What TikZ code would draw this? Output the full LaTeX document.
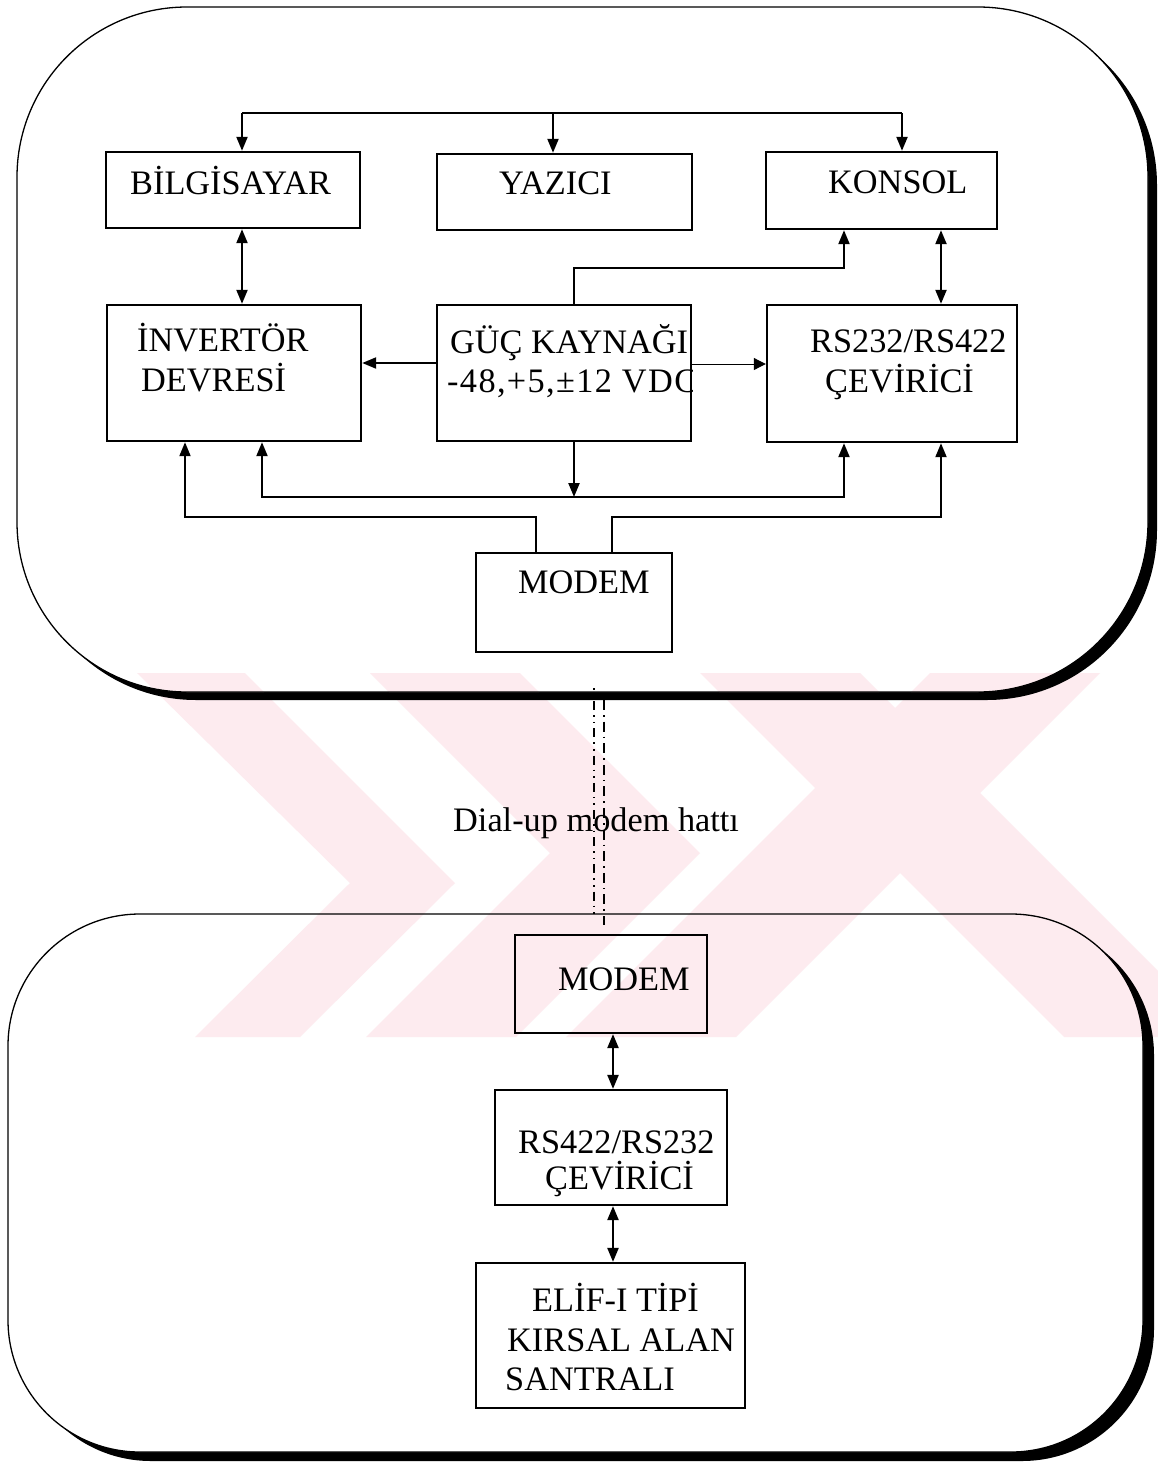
\documentclass[tikz,border=0pt]{standalone}
\usepackage{fontspec}
\setmainfont{Liberation Serif}
\usetikzlibrary{arrows.meta}
\definecolor{wm}{RGB}{253,235,239}
\newcommand\wmarkshapes{%
  \begin{scope}
    \clip (0,673) rectangle (1158,1037);
    \fill[wm] (137,673) -- (245,673) -- (455,883) -- (300,1037) -- (195,1037) -- (350,883) -- cycle;
    \fill[wm] (370,673) -- (520,673) -- (700,853) -- (516,1037) -- (366,1037) -- (550,853) -- cycle;
    \fill[wm] (930,673) -- (1100,673) -- (736,1037) -- (566,1037) -- cycle;
    \fill[wm] (700,673) -- (860,673) -- (1224,1037) -- (1064,1037) -- cycle;
  \end{scope}}
\tikzset{
  boxst/.style={draw, line width=2.4pt, inner sep=0pt},
  txt/.style={anchor=base west, inner sep=0pt, font=\fontsize{34.3}{40}\selectfont},
  conn/.style={line width=2.2pt},
  mline/.style={line width=2pt},
  arr/.style={-{Triangle[length=14pt,width=11pt]}},
  darr/.style={{Triangle[length=14pt,width=11pt]}-{Triangle[length=14pt,width=11pt]}},
  thinarr/.style={line width=1pt,-{Triangle[length=12pt,width=12pt]}},
  dashA/.style={line width=1.6pt, dash pattern=on 1.6pt off 5pt on 1.6pt off 5pt on 9pt off 5pt},
  dashB/.style={line width=1.6pt, dash pattern=on 10pt off 5pt on 1.6pt off 5pt}
}
\begin{document}
\begin{tikzpicture}[x=1pt,y=-1pt]
\useasboundingbox (0,0) rectangle (1158,1464);
\fill[white] (0,0) rectangle (1158,1464);
% watermark outside boxes
\wmarkshapes
% top outer box with shadow
\fill[black, rounded corners=170] (26,15) rectangle (1157,700);
\fill[white, rounded corners=170] (17,7) rectangle (1148,692);
\begin{scope}
  \clip[rounded corners=170] (17,7) rectangle (1148,692);
  \wmarkshapes
\end{scope}
\draw[line width=1.3pt, rounded corners=170] (17,7) rectangle (1148,692);
% lower outer box with shadow
\fill[black, rounded corners=132] (19,923) rectangle (1154,1461);
\fill[white, rounded corners=132] (8,914) rectangle (1143,1452);
\begin{scope}
  \clip[rounded corners=132] (8,914) rectangle (1143,1452);
  \wmarkshapes
\end{scope}
\draw[line width=1.3pt, rounded corners=132] (8,914) rectangle (1143,1452);

% boxes
\node[boxst, minimum width=254, minimum height=76] (bil) at (233,190) {};
\node[boxst, minimum width=255, minimum height=76] (yaz) at (564.5,192) {};
\node[boxst, minimum width=231, minimum height=77] (kon) at (881.5,190.5) {};
\node[boxst, minimum width=254, minimum height=136] (inv) at (234,373) {};
\node[boxst, minimum width=254, minimum height=136] (guc) at (564,373) {};
\node[boxst, minimum width=250, minimum height=137] (rs) at (892,373.5) {};
\node[boxst, line width=2pt, minimum width=196, minimum height=99] (modA) at (574,602.5) {};
\node[boxst, line width=2.2pt, minimum width=192, minimum height=98] (modB) at (611,984) {};
\node[boxst, line width=2.2pt, minimum width=232, minimum height=115] (rsB) at (611,1147.5) {};
\node[boxst, line width=2.2pt, minimum width=269, minimum height=145] (elif) at (610.5,1335.5) {};

% texts
\node[txt] (tbil) at (130,194) {BİLGİSAYAR};
\node[txt] (tyaz) at (499,194) {YAZICI};
\node[txt] (tkon) at (828,193) {KONSOL};
\node[txt] (tinv1) at (137,351) {İNVERTÖR};
\node[txt] (tinv2) at (141,391) {DEVRESİ};
\begin{scope}
  \clip (guc.south west) rectangle (guc.north east);
  \node[txt] (tguc1) at (450,353) {GÜÇ KAYNAĞI};
  \node[txt] (tguc2) at (447,392) {\addfontfeatures{LetterSpace=4}-48,+5,±12 VDC};
\end{scope}
\node[txt] (trs1) at (810,352) {RS232/RS422};
\node[txt] (trs2) at (825,392) {ÇEVİRİCİ};
\node[txt] (tmodA) at (518,593) {MODEM};
\node[txt] (tdial) at (453,831) {Dial-up modem hattı};
\node[txt] (tmodB) at (558,990) {MODEM};
\node[txt] (trsB1) at (518,1153) {RS422/RS232};
\node[txt] (trsB2) at (545,1189) {ÇEVİRİCİ};
\node[txt] (tel1) at (532,1311) {ELİF-I TİPİ};
\node[txt] (tel2) at (507,1351) {KIRSAL ALAN};
\node[txt] (tel3) at (505,1390) {SANTRALI};

% top bus
\coordinate (b1) at (242,113);
\coordinate (b2) at (553,113);
\coordinate (b3) at (902,113);
\draw[conn] (b1) -- (b3);
\draw[conn,arr] (b1) -- (b1 |- bil.north);
\draw[conn,arr] (b2) -- (b2 |- yaz.north);
\draw[conn,arr] (b3) -- (b3 |- kon.north);
% bilgisayar - invertor
\draw[conn,darr] (b1 |- bil.south) -- (b1 |- inv.north);
% guc -> konsol
\coordinate (p1) at (574,268);
\coordinate (p2) at (844,268);
\draw[conn,arr] (p1 |- guc.north) -- (p1) -- (p2) -- (p2 |- kon.south);
% konsol - rs
\coordinate (kr) at (941,268);
\draw[conn,darr] (kr |- kon.south) -- (kr |- rs.north);
% guc -> invertor, guc -> rs
\coordinate (h1) at (400,363);
\coordinate (h2) at (730,364);
\draw[conn,arr] (h1 -| guc.west) -- (h1 -| inv.east);
\draw[thinarr] (h2 -| guc.east) -- (h2 -| rs.west);
% guc down to bus
\coordinate (d1) at (574,497);
\coordinate (e1) at (262,497);
\coordinate (e2) at (844,497);
\draw[conn,arr] (d1 |- guc.south) -- (d1);
\draw[conn,arr] (d1) -| (inv.south -| e1);
\draw[conn,arr] (d1) -| (rs.south -| e2);
% modem lines
\coordinate (m1) at (536,517);
\coordinate (m2) at (612,517);
\coordinate (iL) at (185,517);
\coordinate (rR) at (941,517);
\draw[mline,arr] (m1 |- modA.north) -- (m1) -| (inv.south -| iL);
\draw[mline,arr] (m2 |- modA.north) -- (m2) -| (rs.south -| rR);
% dial-up line
\coordinate (da1) at (594,688);
\coordinate (da2) at (594,917);
\coordinate (db1) at (604,700);
\coordinate (db2) at (604,925);
\draw[dashA] (da1) -- (da2);
\draw[dashB] (db1) -- (db2);
% lower stack
\coordinate (lx) at (613,1000);
\draw[conn,darr] (lx |- modB.south) -- (lx |- rsB.north);
\draw[conn,darr] (lx |- rsB.south) -- (lx |- elif.north);
\end{tikzpicture}
\end{document}
